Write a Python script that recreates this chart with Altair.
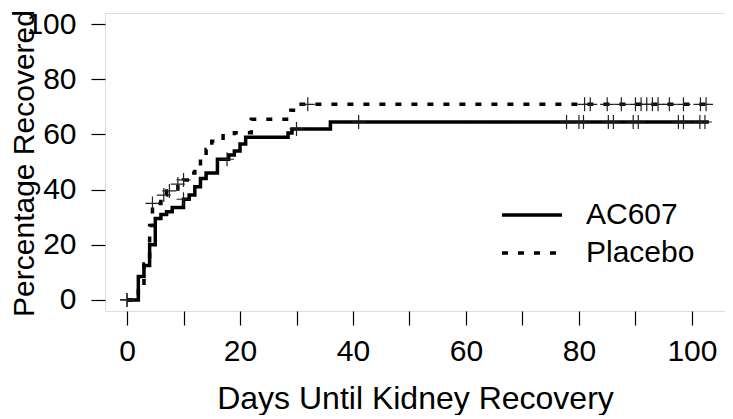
import altair as alt
import pandas as pd

FONT = "Liberation Sans"

# Kaplan-Meier step curves (day, percentage recovered)
ac_days = [0, 2, 3, 4, 5, 6, 7, 8, 10, 11, 12, 13, 14, 16, 18, 19, 20, 21, 28.5, 29.2, 36, 103]
ac_pct = [0, 8.5, 12.5, 20, 29.5, 31, 32, 33.5, 36.5, 38, 41, 44, 46, 51, 52.5, 54, 56.5, 59, 60.5, 62, 64.5, 64.5]

pl_days = [0, 2, 3, 4, 4.5, 6, 7, 9, 10, 11, 12, 13, 14, 15, 17, 19, 22, 29, 30, 103]
pl_pct = [0, 5, 13, 27, 35, 38, 39.5, 42, 43.5, 46, 48, 51, 54.5, 57.5, 59.5, 60.6, 65.5, 68.8, 70.9, 70.9]

# censoring marks
ac_cens_days = [0, 10, 17.7, 30, 41, 77.8, 80, 80.8, 85.2, 86.1, 89.6, 90.5, 97.6, 98.5, 101.4, 102.3]
ac_cens_pct = [0, 36.5, 51, 62, 64.5, 64.5, 64.5, 64.5, 64.5, 64.5, 64.5, 64.5, 64.5, 64.5, 64.5, 64.5]

pl_cens_days = [0, 4.5, 6.5, 7.5, 9, 10, 32, 81, 82, 85, 87.5, 90, 91, 92, 93, 94, 96, 98.5, 101.5, 102.5]
pl_cens_pct = [0, 35, 38, 39.5, 42, 43.5, 70.9, 70.9, 70.9, 70.9, 70.9, 70.9, 70.9, 70.9, 70.9, 70.9, 70.9, 70.9, 70.9, 70.9]

arms = ["AC607", "Placebo"]
x_ticks = [0, 10, 20, 30, 40, 50, 60, 70, 80, 90, 100]
y_ticks = [0, 10, 20, 30, 40, 50, 60, 70, 80, 90, 100]

curves = pd.DataFrame({
    "day": ac_days + pl_days,
    "pct": ac_pct + pl_pct,
    "arm": [arms[0]] * len(ac_days) + [arms[1]] * len(pl_days),
})
cens = pd.DataFrame({
    "day": ac_cens_days + pl_cens_days,
    "pct": ac_cens_pct + pl_cens_pct,
})

xs = alt.Scale(domain=[-3.9, 105.85], nice=False, zero=False)
ys = alt.Scale(domain=[-4, 104], nice=False, zero=False)

common_axis = dict(
    domain=False, grid=False, tickSize=14, tickColor="black", tickWidth=1.2,
    labelFont=FONT, labelFontSize=30, labelColor="black", labelOverlap=False,
    labelFlush=False, titleFont=FONT, titleColor="black",
    titleFontWeight="normal",
)

xaxis = alt.Axis(
    values=x_ticks, labelExpr="datum.value % 20 == 0 ? datum.label : ''",
    title="Days Until Kidney Recovery", labelPadding=11, titleFontSize=32,
    titleY=72, titleX=310, titleAnchor="middle", titleBaseline="top",
    **common_axis,
)
yaxis = alt.Axis(
    values=y_ticks, labelExpr="datum.value % 20 == 0 ? datum.label : ''",
    title="Percentage Recovered", labelPadding=15, titleFontSize=30,
    titleX=-66, titleY=150, titleAngle=270, titleBaseline="bottom", titleAlign="center",
    **common_axis,
)

lines = alt.Chart(curves).mark_line(
    interpolate="step-after", color="black", strokeWidth=3.5, strokeCap="butt"
).encode(
    x=alt.X("day:Q", scale=xs, axis=xaxis),
    y=alt.Y("pct:Q", scale=ys, axis=yaxis),
    strokeDash=alt.StrokeDash(
        "arm:N",
        scale=alt.Scale(domain=arms, range=[[1, 0], [6, 10]]),
        legend=alt.Legend(
            title=None, orient="none", legendX=395, legendY=183,
            symbolType="stroke", symbolSize=3600, symbolStrokeWidth=3.5,
            symbolStrokeColor="black", clipHeight=38, rowPadding=0, padding=0,
            labelFont=FONT, labelFontSize=30, labelColor="black", labelOffset=22,
        ),
    ),
)

plus = alt.Chart(cens).mark_point(
    shape="M-1,0H1M0,-1V1", filled=False, stroke="#222", strokeWidth=1.2, size=196, opacity=1
).encode(
    x=alt.X("day:Q", scale=xs),
    y=alt.Y("pct:Q", scale=ys),
)

chart = alt.layer(lines, plus).properties(
    width=620, height=298,
    padding={"left": 97, "top": 5, "right": 0, "bottom": 104},
    autosize=alt.AutoSizeParams(type="none"),
).configure_view(stroke="black", strokeWidth=1.2).configure(background="white")

chart.save("out.html", embed_options={"renderer": "svg", "actions": False})
